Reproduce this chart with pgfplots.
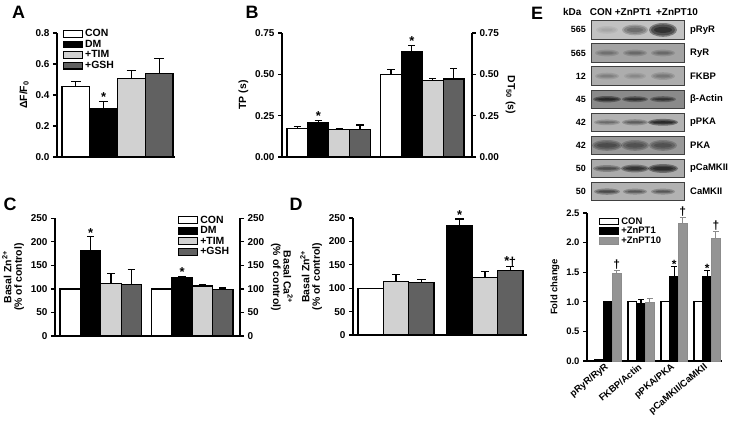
\documentclass[border=0pt]{standalone}
\usepackage{pgfplots}
\pgfplotsset{compat=1.18}
\usepackage{fontspec}
\setmainfont{Liberation Sans}
\newcommand\fs[1]{\fontsize{#1}{#1}\selectfont\bfseries}
\newcommand\band[5]{%
  \pgfmathsetmacro\bo{#3*0.38}%
  \fill[black, opacity=\bo] (#1,#2) ellipse ({#5+2} and {#4+1.4});
  \fill[black, opacity=\bo] (#1,#2) ellipse ({#5} and {#4});
  \fill[black, opacity=\bo] (#1,#2) ellipse ({#5-3} and {#4*0.55});
}
\pgfplotsset{
  /pgfplots/ybar legend/.style={/pgfplots/legend image code/.code={\draw[##1,line width=1.1bp] (0bp,-3.4bp) rectangle (19bp,3.4bp);}},
  base/.style={
    scale only axis, enlargelimits=false, ymin=0, clip=false,
    axis line style={line width=1.3bp, black},
    tick align=outside, major tick length=4bp,
    tick style={line width=1.2bp, black},
    /pgf/number format/assume math mode=true,
    tick label style={font=\fs{10}},
    label style={font=\fs{10.5}},
  },
  panel/.style={base,
    ybar, bar shift=0pt, bar width=1,
    axis x line*=bottom, axis y line*=left,
    xtick=\empty,
    legend style={draw=none, fill=none, inner sep=0pt, font=\fs{10.5}, row sep=-2.2bp,
      /tikz/every even column/.append style={column sep=2bp}},
    legend cell align=left,
    error bars/y dir=plus, error bars/y explicit,
    error bars/error bar style={line width=1.2bp, black},
    error bars/error mark options={rotate=90, mark size=4bp, line width=1.2bp, black},
  },
  rightax/.style={base, axis y line*=right, axis x line=none, xmin=0, xmax=1,
    ylabel style={rotate=180}},
  con/.style={fill=white, draw=black, line width=1.2bp},
  dm/.style={fill=black, draw=black, line width=1.2bp},
  tim/.style={fill=black!18, draw=black, line width=1.2bp},
  gsh/.style={fill=black!62, draw=black, line width=1.2bp},
  zn/.style={fill=black!42, draw=black!45, line width=0.8bp},
}
\begin{document}
\begin{tikzpicture}
\path[use as bounding box] (0,0) rectangle (737bp,-424bp);
% panel letters
\node[font=\fs{18}] at (18.5bp,-12.5bp) {A};
\node[font=\fs{18}] at (252bp,-12.5bp) {B};
\node[font=\fs{18}] at (10bp,-204bp) {C};
\node[font=\fs{18}] at (296bp,-204bp) {D};
\node[font=\fs{18}] at (537bp,-13bp) {E};

% ---------------- A
\begin{axis}[panel, at={(57bp,-157bp)}, anchor=south west, width=118bp, height=124bp,
  xmin=0.319, xmax=4.573, ymax=0.8, ytick={0,0.2,0.4,0.6,0.8},
  yticklabel style={/pgf/number format/.cd,fixed,fixed zerofill,precision=1},
  ylabel={ΔF/F\textsubscript{0}},
  legend style={at={(0.05,1.045)}, anchor=north west},
  error bars/error mark options={rotate=90, mark size=4.8bp, line width=1.2bp, black}]
\addplot[con] coordinates {(1,0.455) +- (0,0.032)};
\addplot[dm] coordinates {(2,0.31) +- (0,0.05)};
\addplot[tim] coordinates {(3,0.505) +- (0,0.055)};
\addplot[gsh] coordinates {(4,0.54) +- (0,0.095)};
\legend{CON,DM,+TIM,+GSH}
\node[font=\fs{13}, anchor=south, inner sep=0pt] at (axis cs:2,0.355) {*};
\end{axis}

% ---------------- B
\begin{axis}[panel, at={(282bp,-157bp)}, anchor=south west, width=190bp, height=124bp,
  xmin=0.26, xmax=9.36, ymax=0.75, ytick={0,0.25,0.5,0.75},
  yticklabel style={/pgf/number format/.cd,fixed,fixed zerofill,precision=2},
  ylabel={TP (s)},
  error bars/error mark options={rotate=90, mark size=3.6bp, line width=1.2bp, black}]
\addplot[con] coordinates {(1,0.172) +- (0,0.014) (5.48,0.50) +- (0,0.031)};
\addplot[dm] coordinates {(2,0.207) +- (0,0.016) (6.48,0.638) +- (0,0.037)};
\addplot[tim] coordinates {(3,0.168) +- (0,0.004) (7.48,0.462) +- (0,0.012)};
\addplot[gsh] coordinates {(4,0.168) +- (0,0.025) (8.48,0.472) +- (0,0.065)};
\node[font=\fs{13}, anchor=south, inner sep=0pt] at (axis cs:2,0.22) {*};
\node[font=\fs{13}, anchor=south, inner sep=0pt] at (axis cs:6.48,0.672) {*};
\end{axis}
\begin{axis}[rightax, at={(282bp,-157bp)}, anchor=south west, width=190bp, height=124bp,
  ymax=0.75, ytick={0,0.25,0.5,0.75},
  yticklabel style={/pgf/number format/.cd,fixed,fixed zerofill,precision=2},
  ylabel={DT\textsubscript{50} (s)}]
\end{axis}

% ---------------- C
\begin{axis}[panel, at={(55bp,-336bp)}, anchor=south west, width=185bp, height=117.7bp,
  xmin=0.256, xmax=9.33, ymax=250, ytick={0,50,100,150,200,250},
  ylabel={Basal Zn\textsuperscript{2+}\\(\% of control)}, ylabel style={align=center},
  legend style={at={(0.665,1.04)}, anchor=north west},
  error bars/error mark options={rotate=90, mark size=3.6bp, line width=1.2bp, black}]
\addplot[con, error bars/y dir=none] coordinates {(1,100) (5.49,100)};
\addplot[dm] coordinates {(2,182) +- (0,28.6) (6.49,124) +- (0,3)};
\addplot[tim] coordinates {(3,112) +- (0,21) (7.49,106) +- (0,3)};
\addplot[gsh] coordinates {(4,110) +- (0,32) (8.49,98) +- (0,4)};
\legend{CON,DM,+TIM,+GSH}
\node[font=\fs{13}, anchor=south, inner sep=0pt] at (axis cs:2,208) {*};
\node[font=\fs{13}, anchor=south, inner sep=0pt] at (axis cs:6.49,125) {*};
\end{axis}
\begin{axis}[rightax, at={(55bp,-336bp)}, anchor=south west, width=185bp, height=117.7bp,
  ymax=250, ytick={0,50,100,150,200,250},
  ylabel={Basal Ca\textsuperscript{2+}\\(\% of control)}, ylabel style={align=center}]
\end{axis}

% ---------------- D
\begin{axis}[panel, at={(353bp,-335bp)}, anchor=south west, width=174bp, height=117bp,
  xmin=0.30, xmax=7.17, ymax=250, ytick={0,50,100,150,200,250},
  ylabel={Basal Zn\textsuperscript{2+}\\(\% of control)}, ylabel style={align=center},
  error bars/error mark options={rotate=90, mark size=4.2bp, line width=1.2bp, black}]
\addplot[con, error bars/y dir=none] coordinates {(1,100)};
\addplot[dm] coordinates {(4.51,233) +- (0,15)};
\addplot[tim] coordinates {(2,114) +- (0,14.6) (5.51,123) +- (0,13)};
\addplot[gsh] coordinates {(3,112) +- (0,7) (6.51,138) +- (0,8)};
\node[font=\fs{13}, anchor=south, inner sep=0pt] at (axis cs:4.51,246) {*};
\node[font=\fs{13}, anchor=south, inner sep=0pt] at (axis cs:6.51,144) {*\kern-0.5pt\raisebox{-1pt}{\fs{13}†}};
\end{axis}

% ---------------- E bar chart
\begin{axis}[panel, at={(587bp,-361bp)}, anchor=south west, width=135bp, height=148bp,
  xmin=0.364, xmax=4.45, ymax=2.5, ytick={0,0.5,1,1.5,2,2.5},
  yticklabel style={/pgf/number format/.cd,fixed,fixed zerofill,precision=1},
  tick label style={font=\fs{9.5}},
  ylabel={Fold change}, label style={font=\fs{9.5}},
  bar width=0.264,
  xtick={1,2,3,4}, xtick style={draw=none},
  xticklabels={pRyR/RyR,FKBP/Actin,pPKA/PKA,pCaMKII/CaMKII},
  xticklabel style={rotate=40, anchor=east, inner sep=1bp, font=\fs{9.5}},
  legend style={at={(0.089,0.985)}, anchor=north west, font=\fs{9.5}},
  error bars/error mark options={rotate=90, mark size=3bp, line width=1.1bp, black}]
\addplot[con, error bars/y dir=none] coordinates {(0.736,0.03) (1.736,1) (2.736,1) (3.736,1)};
\addplot[dm] coordinates {(1,1) +- (0,0) (2,0.97) +- (0,0.07) (3,1.43) +- (0,0.16) (4,1.42) +- (0,0.11)};
\addplot[zn, error bars/error bar style={line width=1.1bp, black!45},
  error bars/error mark options={rotate=90, mark size=3bp, line width=1.1bp, black!45}]
  coordinates {(1.264,1.48) +- (0,0.05) (2.264,0.99) +- (0,0.07) (3.264,2.33) +- (0,0.09) (4.264,2.07) +- (0,0.12)};
\legend{CON,+ZnPT1,+ZnPT10}
\node[font=\fs{12}, anchor=south, inner sep=0pt] at (axis cs:1.264,1.55) {†};
\node[font=\fs{12}, anchor=south, inner sep=0pt] at (axis cs:3.264,2.44) {†};
\node[font=\fs{12}, anchor=south, inner sep=0pt] at (axis cs:4.264,2.21) {†};
\node[font=\fs{12}, anchor=south, inner sep=0pt] at (axis cs:3,1.56) {*};
\node[font=\fs{12}, anchor=south, inner sep=0pt] at (axis cs:4,1.50) {*};
\end{axis}

% ---------------- E blot
\begin{scope}[x=1bp,y=-1bp]
\node[anchor=west, font=\fs{10}, inner sep=0pt] at (563,12) {kDa};
\node[font=\fs{10}, inner sep=0pt] at (601,12) {CON};
\node[font=\fs{10}, inner sep=0pt] at (633,12) {+ZnPT1};
\node[font=\fs{10}, inner sep=0pt] at (677,12) {+ZnPT10};
\foreach \i/\lab/\kda/\bg in {0/pRyR/565/24,1/RyR/565/36,2/FKBP/12/32,3/β-Actin/45/46,4/pPKA/42/30,5/PKA/42/40,6/pCaMKII/50/33,7/CaMKII/50/30}{
  \pgfmathsetmacro\tp{20.7+23.1*\i}
  \pgfmathsetmacro\bt{\tp+18.3}
  \pgfmathsetmacro\md{\tp+9.2}
  \fill[black!\bg] (591,\tp) rectangle (684,\bt);
  \draw[black!75, line width=0.9bp] (591,\tp) rectangle (684,\bt);
  \node[anchor=east, font=\fs{9}, inner sep=0pt] at (586,\md) {\kda};
  \node[anchor=west, font=\fs{9.5}, inner sep=0pt] at (690,\md) {\lab};
}
% bands: x, y, darkness, half-height, half-width
\band{607}{29.9}{0.12}{2.5}{9}
\band{635}{29.9}{0.45}{4}{11}
\band{663}{29.9}{0.95}{5.5}{12}
\band{607}{53}{0.3}{2}{10}
\band{635}{53}{0.35}{2}{10}
\band{663}{53}{0.35}{2}{10}
\band{607}{76.1}{0.25}{2}{10}
\band{635}{76.1}{0.2}{2}{9}
\band{663}{76.1}{0.3}{2.5}{10}
\band{607}{99.2}{0.9}{1.8}{12}
\band{635}{99.2}{0.8}{1.6}{11}
\band{663}{99.2}{0.75}{1.6}{11}
\band{607}{122.3}{0.4}{1.5}{11}
\band{635}{122.3}{0.5}{1.7}{11}
\band{663}{122.3}{1}{2}{13}
\band{607}{145.4}{0.55}{4}{13}
\band{635}{145.4}{0.5}{4}{12}
\band{663}{145.4}{0.5}{4}{12}
\band{607}{168.5}{0.6}{2}{12}
\band{635}{168.5}{0.85}{2.5}{12}
\band{663}{168.5}{0.95}{3}{13}
\band{607}{191.6}{0.65}{1.8}{11}
\band{635}{191.6}{0.55}{1.6}{10}
\band{663}{191.6}{0.55}{1.6}{10}
\end{scope}
\end{tikzpicture}
\end{document}
